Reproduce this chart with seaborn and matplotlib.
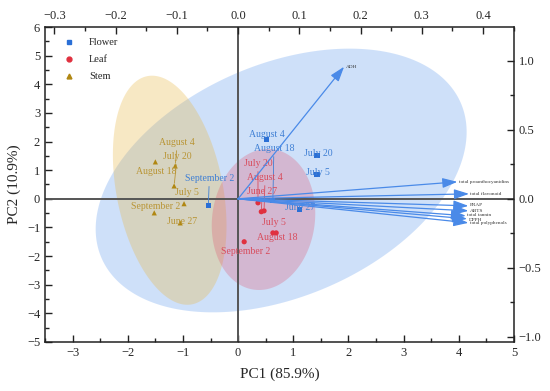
import numpy as np
import pandas as pd
import seaborn as sns
import matplotlib.pyplot as plt
from matplotlib.lines import Line2D
from matplotlib.ticker import MultipleLocator

# sample scores (PC1, PC2)
dates = ['June 27', 'July 5', 'July 20', 'August 4', 'August 18', 'September 2']
flower_pc1 = [1.11, 1.43, 1.43, 0.51, 0.63, -0.54]
flower_pc2 = [-0.38, 0.84, 1.50, 2.06, -0.07, -0.24]
leaf_pc1 = [0.42, 0.63, 0.36, 0.47, 0.69, 0.11]
leaf_pc2 = [-0.45, -1.19, -0.14, -0.42, -1.19, -1.50]
stem_pc1 = [-1.05, -0.98, -1.16, -1.14, -1.50, -1.52]
stem_pc2 = [-0.84, -0.17, 0.45, 1.15, 1.29, -0.49]

# loadings (top / right axes)
loading_names = ['ADH', 'total proanthocyanidins', 'total flavonoid', 'FRAP',
                 'ABTS', 'total tannin', 'DPPH', 'total polyphenols']
loading_pc1 = [0.173, 0.358, 0.377, 0.376, 0.376, 0.372, 0.374, 0.376]
loading_pc2 = [0.957, 0.123, 0.036, -0.051, -0.087, -0.123, -0.145, -0.174]

# confidence ellipses: centre and covariance
ell_center = {'Flower': (0.78, 0.64), 'Stem': (-1.24, 0.30), 'Leaf': (0.46, -0.72)}
ell_cov = {'Flower': [[11.3, 5.7], [5.7, 21.2]],
           'Stem': [[1.06, -1.28], [-1.28, 16.0]],
           'Leaf': [[0.88, 0.20], [0.20, 6.07]]}

groups = ['Flower', 'Leaf', 'Stem']
df = pd.DataFrame({
    'PC1': flower_pc1 + leaf_pc1 + stem_pc1,
    'PC2': flower_pc2 + leaf_pc2 + stem_pc2,
    'group': [g for g in groups for _ in dates],
    'date': dates * 3,
})

marker_col = {'Flower': '#2a6fd6', 'Leaf': '#e0303f', 'Stem': '#b08712'}
text_col = {'Flower': '#3f7fd4', 'Leaf': '#d84c5c', 'Stem': '#b99535'}
fill_col = {'Flower': '#3f86ea', 'Leaf': '#e0506a', 'Stem': '#e9b84a'}
fill_alpha = {'Flower': 0.25, 'Leaf': 0.28, 'Stem': 0.32}
markers = {'Flower': 's', 'Leaf': 'o', 'Stem': '^'}

# label offsets in pixels (dx, dy up) and whether a leader line is drawn
label_pos = {
    ('Flower', 'June 27'): (1, 2, False), ('Flower', 'July 5'): (1, 2, False),
    ('Flower', 'July 20'): (1, 2, False), ('Flower', 'August 4'): (1, 5, False),
    ('Flower', 'August 18'): (1, 52, True), ('Flower', 'September 2'): (1, 27, True),
    ('Leaf', 'June 27'): (1, 20, True), ('Leaf', 'July 5'): (1, 10, False),
    ('Leaf', 'July 20'): (0, 39, True), ('Leaf', 'August 4'): (1, 33, True),
    ('Leaf', 'August 18'): (1, -5, False), ('Leaf', 'September 2'): (1, -10, False),
    ('Stem', 'June 27'): (2, 1, False), ('Stem', 'July 5'): (3, 11, False),
    ('Stem', 'July 20'): (3, 29, True), ('Stem', 'August 4'): (2, 23, True),
    ('Stem', 'August 18'): (1, -10, False), ('Stem', 'September 2'): (1, 6, False),
}
# small vertical nudges (points) for the crowded loading labels
loading_nudge = [0, 0, 0, 0.3, 0, 0.6, -0.6, -0.3]

sns.set_style('ticks')
plt.rcParams['font.family'] = ['Liberation Serif', 'DejaVu Serif']

fig = plt.figure(figsize=(5.5, 3.91), dpi=100)
pos = [45 / 550, 1 - 342 / 391, 469 / 550, 315 / 391]
ax = fig.add_axes(pos)

# ellipses
t = np.linspace(0, 2 * np.pi, 300)
for g in ['Flower', 'Stem', 'Leaf']:
    L = np.linalg.cholesky(np.array(ell_cov[g]))
    pts = L @ np.vstack([np.cos(t), np.sin(t)])
    ax.fill(ell_center[g][0] + pts[0], ell_center[g][1] + pts[1],
            color=fill_col[g], alpha=fill_alpha[g], lw=0, zorder=1)

ax.axhline(0, color='#555555', lw=1.4, zorder=2)
ax.axvline(0, color='#555555', lw=1.4, zorder=2)

sns.scatterplot(data=df, x='PC1', y='PC2', hue='group', style='group',
                palette=marker_col, markers=markers, s=14, linewidth=0,
                legend=False, ax=ax, zorder=4)

for _, r in df.iterrows():
    dx, dy, lead = label_pos[(r['group'], r['date'])]
    ax.annotate(r['date'], xy=(r['PC1'], r['PC2']),
                xytext=(dx * 0.72, dy * 0.72), textcoords='offset points',
                ha='center', va='center', fontsize=7, color=text_col[r['group']],
                zorder=5,
                arrowprops=dict(arrowstyle='-', color=text_col[r['group']], lw=0.6,
                                shrinkA=0, shrinkB=2) if lead else None)

ax.set_xlim(-3.5, 5)
ax.set_ylim(-5, 6)
ax.xaxis.set_major_locator(MultipleLocator(1))
ax.xaxis.set_minor_locator(MultipleLocator(0.5))
ax.yaxis.set_major_locator(MultipleLocator(1))
ax.yaxis.set_minor_locator(MultipleLocator(0.5))
ax.tick_params(which='both', direction='in', labelsize=9, width=1, color='#222222')
ax.tick_params(which='major', length=5)
ax.tick_params(which='minor', length=3)
ax.set_xlabel('PC1 (85.9%)', fontsize=11, labelpad=6)
ax.set_ylabel('PC2 (10.9%)', fontsize=11, labelpad=4)
for s in ax.spines.values():
    s.set_linewidth(1.1)
    s.set_color('#222222')

# loadings on top / right axes
ax2 = fig.add_axes(pos, frameon=False)
ax2.set_zorder(3)
ax2.xaxis.tick_top()
ax2.yaxis.tick_right()
ax2.set_xlim(-3.5 / 11.1, 5 / 11.1)
ax2.set_ylim(-5 / 4.82, 6 / 4.82)
ax2.xaxis.set_major_locator(MultipleLocator(0.1))
ax2.xaxis.set_minor_locator(MultipleLocator(0.05))
ax2.yaxis.set_major_locator(MultipleLocator(0.5))
ax2.yaxis.set_minor_locator(MultipleLocator(0.25))
ax2.tick_params(which='both', direction='in', labelsize=9, width=1, color='#222222')
ax2.tick_params(which='major', length=5)
ax2.tick_params(which='minor', length=3)

for name, lx, ly, nd in zip(loading_names, loading_pc1, loading_pc2, loading_nudge):
    ax2.annotate('', xy=(lx, ly), xytext=(0, 0),
                 arrowprops=dict(arrowstyle='-|>,head_length=0.9,head_width=0.3',
                                 color='#4a8ae8', lw=0.9, shrinkA=0, shrinkB=0))
    ax2.annotate(name, xy=(lx, ly), xytext=(1, nd), textcoords='offset points',
                 ha='left', va='center', fontsize=3.8, color='#333333')

handles = [Line2D([], [], ls='', marker=markers[g], color=marker_col[g], ms=3.5)
           for g in groups]
ax.legend(handles, groups, loc='upper left', bbox_to_anchor=(0.02, 0.995),
          frameon=False, fontsize=7.5, handlelength=1, handletextpad=1.4,
          labelspacing=0.75)

plt.savefig('out.png', dpi=100)
